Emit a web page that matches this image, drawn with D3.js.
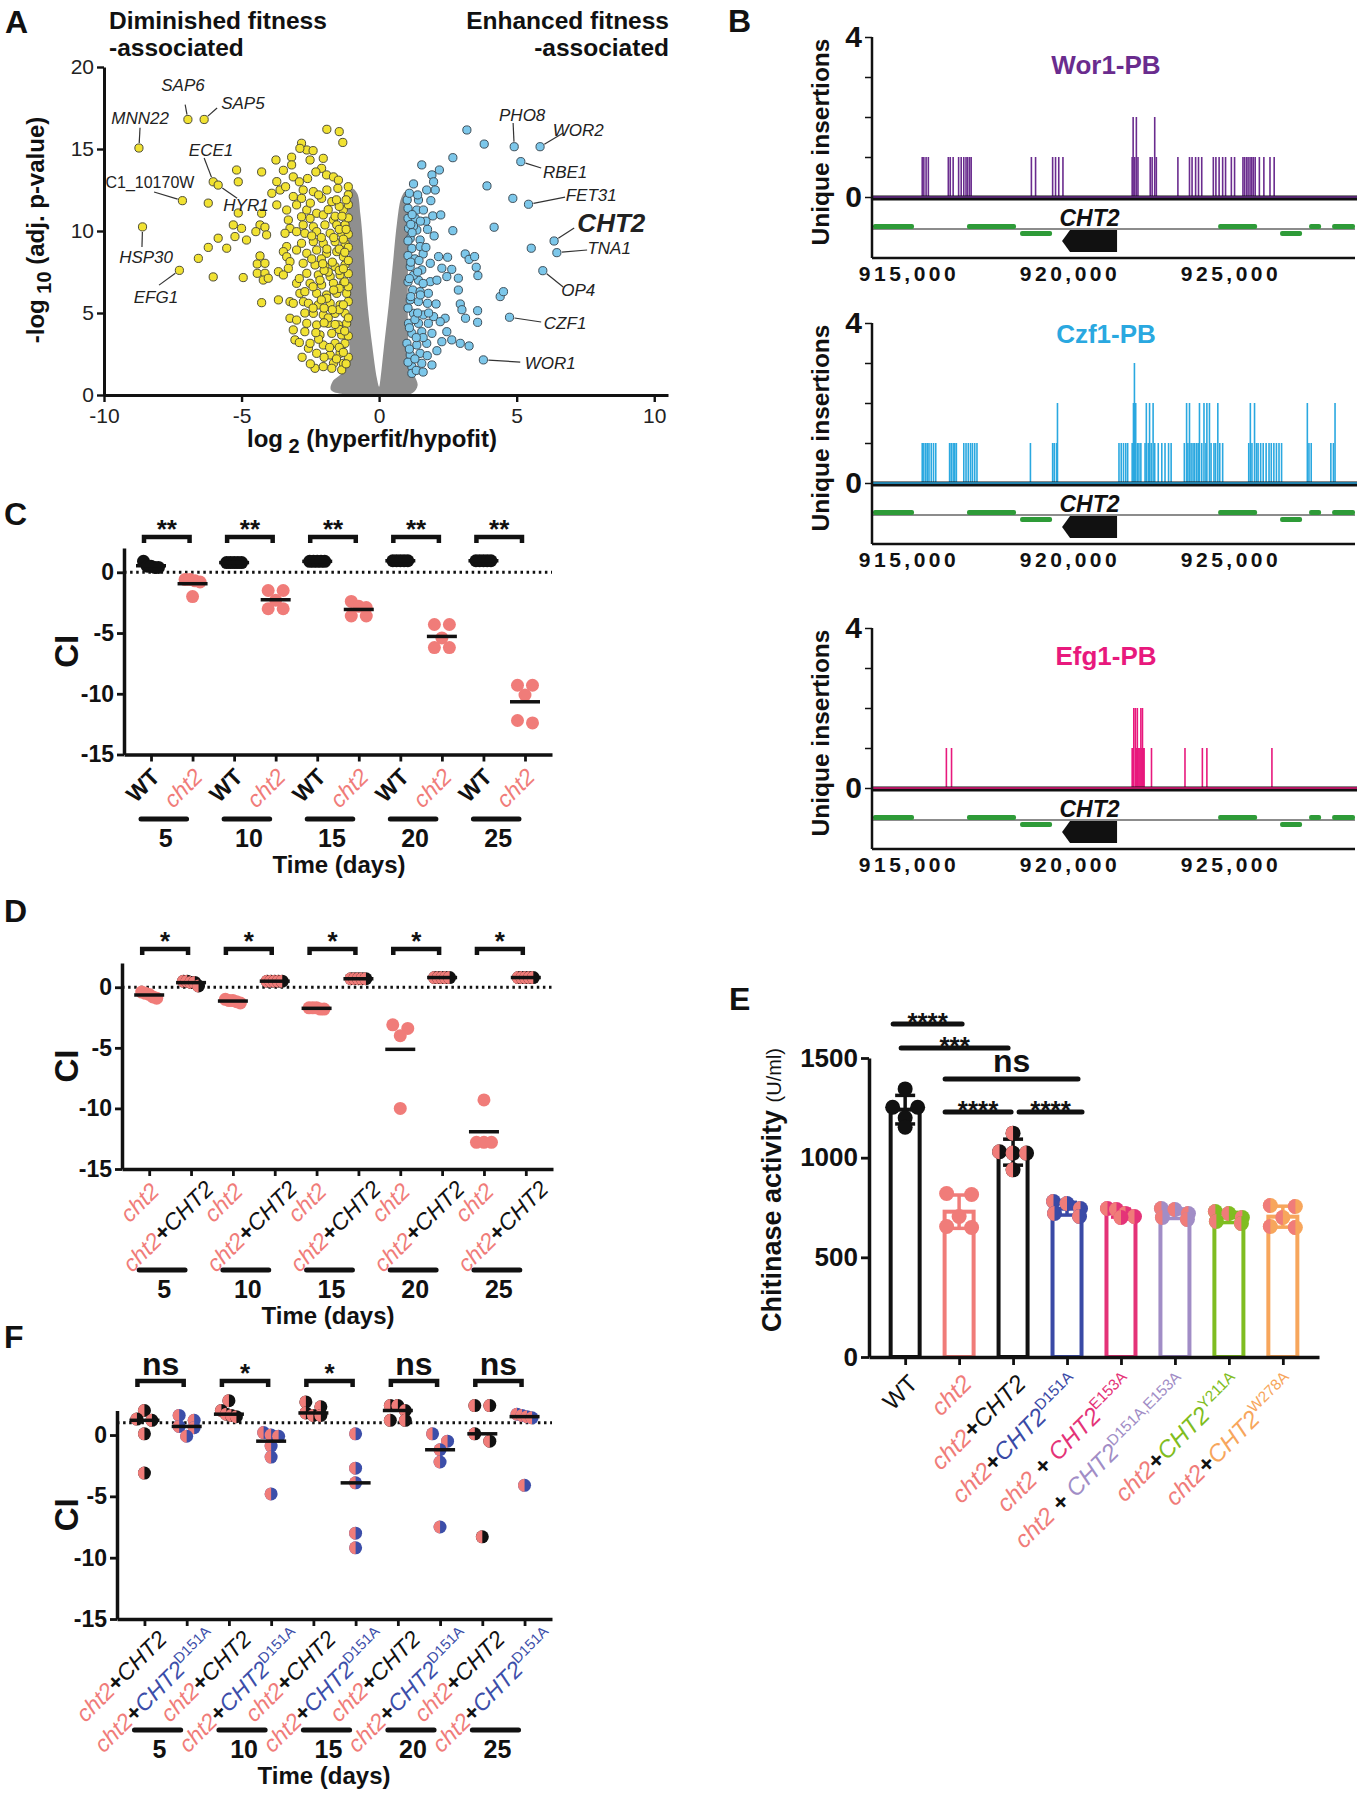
<!DOCTYPE html>
<html>
<head>
<meta charset="utf-8">
<script src="https://cdn.jsdelivr.net/npm/d3@7"></script>
<style>
  body { margin: 0; background: #fff; }
  svg { display: block; }
</style>
</head>
<body>
<svg id="fig" width="1357" height="1800"></svg>
<script>
const NARROW = "'Liberation Sans Narrow', 'Liberation Sans', Arial, sans-serif";
const SANS = "'Liberation Sans', Arial, sans-serif";
const PINK = "#f07c79";
const BLUE = "#3c4ea9";
const INK = "#111";

// ---------------- A: volcano plot ----------------
const volcanoTicksX = [-10, -5, 0, 5, 10];
const volcanoTicksY = [0, 5, 10, 15, 20];

// outline of the dense grey (non-significant) cloud
const grayCloud = [[-1.3,0.05],[-1.75,0.3],[-1.7,0.8],[-1.3,1.4],[-1.12,2.0],[-1.08,4],[-1.1,8],[-1.15,11],[-1.0,12.6],
  [-0.8,12.3],[-0.68,11],[-0.55,8.5],[-0.42,5.5],[-0.25,3],[-0.08,1.0],[0,0.5],[0.05,1.0],[0.18,3],[0.35,5.5],
  [0.5,8],[0.65,10.5],[0.8,12.0],[0.95,12.4],[1.1,11.5],[1.05,8],[1.05,4],[1.1,2.0],[1.25,1.3],[1.4,0.6],[1.2,0.1],[0.4,0.0]];

const yellowPts = [[-8.73,15.06],[-6.95,16.8],[-6.36,16.8],[-8.6,10.25],[-6.03,13.0],[-5.85,12.8],[-7.15,11.85],[-7.26,7.6],[-6.21,11.7],
  [-1.9,16.2],[-1.45,16.06],[-1.32,15.4],[-5.18,13.72],[-5.12,13.0],[-4.27,13.6],[-5.12,11.1],
  [-5.3,10.37],[-5.0,10.16],[-5.24,9.66],[-4.82,9.45],[-5.85,9.56],[-6.21,9.0],[-5.54,8.95],[-6.57,8.33],[-6.03,7.2],[-4.94,7.16],[-4.27,5.63],
  [-4.27,11.08],[-4.33,10.37],[-4.15,10.23],[-4.48,9.96],[-4.09,9.76],
  [-4.33,8.48],[-4.43,7.99],[-4.15,8.03],[-4.43,7.42],[-4.15,7.42],[-4.21,7.01],[-4.03,7.12],[-3.66,7.52],[-3.66,5.8],
  [-3.75,14.33],[-3.72,13.01],[-3.6,12.5],[-3.72,11.59],[-3.48,13.7],[-3.18,14.5],[-3.18,14.03],[-3.12,13.3],[-3.36,11.28],[-3.3,10.67],
  [-3.24,10.16],[-3.42,9.86],[-3.36,9.05],[-3.48,8.74],[-3.36,8.43],[-3.24,8.13],[-3.3,7.72],[-3.48,7.32],[-3.0,6.81],[-2.88,6.2],[-3.24,5.69],
  [-3.12,5.59],[-2.75,5.69],[-3.24,4.68],[-3.0,4.57],[-3.12,3.97],[-2.7,3.86],[-3.06,3.36],[-2.57,2.85],[-2.33,1.63],[-2.03,1.73],
  [-2.82,15.35],[-2.63,14.94],[-2.88,15.04],[-2.51,14.33],[-2.03,14.43],[-2.09,13.82],[-1.91,13.42],[-1.66,13.3],[-1.48,13.1],[-1.12,12.7],
  [-2.76,12.5],[-2.39,12.4],[-3.12,12.1],[-2.82,11.99],[-2.09,11.99],[-1.72,11.79],[-3.0,11.59],[-2.63,11.28],[-2.27,11.08],[-2.03,10.98],
  [-2.82,10.87],[-2.51,10.77],[-1.66,10.67],[-1.3,11.28],[-1.12,12.2],[-2.76,10.37],[-2.39,10.26],[-1.97,10.37],[-1.54,10.37],[-1.24,10.37],
  [-3.0,9.96],[-2.7,9.86],[-2.27,9.96],[-1.78,9.86],[-1.36,9.86],[-2.82,9.25],[-2.39,9.35],[-2.03,9.25],[-1.6,9.35],[-1.24,9.25],
  [-3.0,8.84],[-2.63,8.64],[-2.27,8.84],[-1.91,8.64],[-1.54,8.74],[-1.3,8.43],[-2.76,8.03],[-2.33,7.93],[-1.97,7.83],[-1.6,7.83],[-1.24,7.93],
  [-2.63,7.42],[-2.21,7.32],[-1.78,7.22],[-1.42,7.32],[-2.51,6.81],[-2.09,6.71],[-1.66,6.81],[-1.3,6.81],[-2.7,6.3],[-2.27,6.2],[-1.91,6.1],
  [-1.54,6.2],[-1.18,6.2],[-2.57,5.59],[-2.21,5.49],[-1.78,5.59],[-1.42,5.49],[-2.39,4.98],[-2.03,4.88],[-1.6,4.98],[-1.24,4.98],
  [-2.63,4.37],[-2.27,4.27],[-1.85,4.37],[-1.48,4.27],[-1.18,4.37],[-2.15,3.66],[-1.72,3.76],[-1.36,3.66],[-2.51,3.15],[-2.03,3.05],
  [-1.6,3.15],[-1.24,3.15],[-2.27,2.54],[-1.78,2.44],[-1.42,2.54],[-1.66,1.93],[-1.3,1.93],[-1.72,1.63],[-1.36,1.53],
  [-1.12,2.3],[-1.12,3.6],[-1.12,4.7],[-1.12,5.7],[-1.12,6.6],[-1.12,7.4],[-1.12,8.2],[-1.12,9.0],[-1.12,9.8],[-1.12,10.8],[-1.12,11.6],
  [-1.45,2.9],[-1.45,4.0],[-1.45,5.2],[-1.45,6.5],[-1.45,7.6],[-1.45,8.9],[-1.45,10.1],[-1.45,11.5],[-1.8,2.9],[-1.85,4.7],[-1.9,5.9],
  [-1.85,7.5],[-1.9,8.9],[-1.85,11.3],[-2.2,3.4],[-2.1,5.8],[-2.15,7.0],[-2.1,8.3],
  [-1.2,1.9],[-1.3,2.6],[-1.55,2.2],[-1.25,3.9],[-1.6,4.3],[-1.3,5.5],[-1.7,5.2],[-1.25,6.9],[-1.65,6.4],[-1.3,7.7],[-1.7,8.1],
  [-1.25,8.7],[-1.65,9.6],[-1.3,9.5],[-1.2,10.1],[-1.6,10.9],[-1.35,10.9],[-1.2,11.9],[-1.55,11.9],[-2.0,2.3],[-2.3,3.8],[-2.0,4.4],
  [-2.4,5.3],[-2.0,5.3],[-2.4,6.6],[-2.0,7.6],[-2.45,8.3],[-2.05,8.0],[-2.45,9.7],[-2.1,9.6],[-2.5,11.7],[-2.2,12.2],[-1.9,12.5],
  [-1.5,12.6],[-2.9,13.0],[-2.6,13.2],[-2.3,13.6],[-2.4,14.9],[-3.4,12.7],[-3.9,12.3],[-2.9,7.1],[-2.7,5.0],[-2.9,3.2],[-2.8,2.3],[-2.5,1.9]];

const bluePts = [[4.91,15.14],[5.85,15.14],[5.15,14.23],[5.43,11.63],[4.86,11.99],[6.36,9.39],[6.46,8.68],[5.53,8.95],[5.95,7.58],[4.74,4.74],[3.79,2.14],
  [4.4,6.0],[4.52,6.3],[4.18,10.23],[3.92,12.75],[3.82,15.3],[3.19,16.16],[2.68,14.47],
  [1.55,14.03],[2.19,13.72],[1.92,13.42],[1.98,13.0],[1.73,12.5],[2.04,12.5],[1.25,12.87],[1.02,11.89],[1.43,11.89],[1.88,11.85],[1.05,11.38],
  [1.37,11.28],[1.61,11.28],[1.95,10.92],[2.24,10.98],[1.05,10.77],[1.31,10.77],[2.68,10.02],[1.76,10.1],[2.0,9.7],[1.07,10.16],[1.37,10.06],
  [1.13,9.55],[1.49,9.45],[1.19,8.94],[1.49,9.05],[2.16,8.44],[2.49,8.4],[1.86,8.03],[3.13,8.6],[3.27,8.27],[3.47,8.44],[3.53,7.79],[3.59,7.28],
  [2.28,7.73],[2.64,7.66],[2.46,7.22],[2.88,7.12],[1.55,7.63],[1.13,7.83],[1.43,7.0],[1.86,6.91],[2.1,7.0],[1.22,6.4],[1.49,6.3],[1.79,6.2],
  [2.88,6.4],[1.13,5.8],[1.43,5.7],[1.76,5.59],[2.07,5.55],[2.95,5.55],[3.01,5.2],[3.58,5.14],[3.14,4.68],[3.58,4.43],[1.25,4.98],[1.61,4.88],
  [1.98,4.78],[2.4,4.68],[1.07,4.37],[1.43,4.37],[1.79,4.37],[2.22,4.47],[1.19,3.76],[1.55,3.86],[1.92,3.76],[2.46,3.86],[2.64,3.36],[2.95,3.15],
  [3.27,2.99],[2.28,3.25],[1.01,3.15],[1.37,3.05],[1.73,3.15],[1.13,2.44],[1.49,2.54],[1.92,1.83],[1.19,1.73],[1.55,1.93],[1.19,1.32],
  [1.05,2.0],[1.05,5.3],[1.05,6.9],[1.05,8.5],[1.05,9.4],[1.25,10.3],[1.2,11.0],[1.3,2.2],[1.3,4.6],[1.3,8.3],[1.6,3.5],[1.6,8.6],[1.7,10.6],
  [1.25,7.3],[1.6,6.8],[1.1,12.3],
  [1.1,2.8],[1.35,3.5],[1.1,4.1],[1.4,5.0],[1.15,6.0],[1.5,6.1],[1.1,7.1],[1.4,7.5],[1.15,8.1],[1.45,8.2],[1.2,9.9],[1.5,10.6],[1.15,10.4],
  [1.4,12.2],[1.7,9.0],[1.8,5.0],[1.75,2.4],[2.1,2.7],[1.35,1.5],[1.6,1.4]];

// name, point, label centre, leader-line end
const geneLabels = [
  {t:"MNN22", x:-8.73, y:15.06, lx:-8.69, ly:16.9, ex:-8.69, ey:16.3},
  {t:"SAP6", x:-6.95, y:16.8, lx:-7.13, ly:18.9, ex:-7.05, ey:17.7},
  {t:"SAP5", x:-6.36, y:16.8, lx:-4.95, ly:17.8, ex:-5.89, ey:17.5},
  {t:"ECE1", x:-6.03, y:13.0, lx:-6.11, ly:14.94, ex:-6.36, ey:14.45},
  {t:"HYR1", x:-5.85, y:12.8, lx:-4.84, ly:11.59, ex:-5.16, ey:12.0},
  {t:"C1_10170W", x:-7.15, y:11.85, lx:-8.33, ly:12.99, ex:-8.18, ey:12.38, plain:true},
  {t:"HSP30", x:-8.6, y:10.25, lx:-8.47, ly:8.41, ex:-8.62, ey:9.02},
  {t:"EFG1", x:-7.26, y:7.6, lx:-8.11, ly:5.98, ex:-8.0, ey:6.7},
  {t:"PHO8", x:4.91, y:15.14, lx:5.2, ly:17.07, ex:4.87, ey:16.59},
  {t:"WOR2", x:5.85, y:15.14, lx:7.24, ly:16.16, ex:6.69, ey:15.98},
  {t:"RBE1", x:5.15, y:14.23, lx:6.76, ly:13.6, ex:5.89, ey:13.84},
  {t:"FET31", x:5.43, y:11.63, lx:7.71, ly:12.2, ex:6.76, ey:12.07},
  {t:"CHT2", x:6.36, y:9.39, lx:8.44, ly:10.49, ex:7.09, ey:10.18, big:true},
  {t:"TNA1", x:6.46, y:8.68, lx:8.36, ly:8.96, ex:7.56, ey:8.84},
  {t:"OP4", x:5.95, y:7.58, lx:7.24, ly:6.4, ex:6.69, ey:6.59},
  {t:"CZF1", x:4.74, y:4.74, lx:6.76, ly:4.39, ex:5.89, ey:4.45},
  {t:"WOR1", x:3.79, y:2.14, lx:6.22, ly:1.95, ex:5.13, ey:2.01}
];

// ---------------- B: insertion tracks ----------------
const genomeTicks = [915000, 920000, 925000];
const trackNames = ["Wor1-PB", "Czf1-PB", "Efg1-PB"];
const trackColors = ["#6a2c8e", "#2aa8e0", "#e8197d"];
const wor1Insertions = [[915410,1],[915460,1],[915530,1],[915600,1],[916220,1],[916280,1],[916370,1],[916540,1],[916620,1],[916700,1],
  [916770,1],[916820,1],[916880,1],[916930,1],[918800,1],[918930,1],[919460,1],[919550,1],[919650,1],[919780,1],[921930,1],[921960,2],
  [922010,1],[922060,2],[922110,1],[922490,1],[922550,1],[922630,2],[922680,1],[923350,1],[923710,1],[923790,1],[923900,1],[923990,1],
  [924090,1],[924450,1],[924530,1],[924630,1],[924740,1],[924830,1],[925010,1],[925110,1],[925370,1],[925420,1],[925480,1],[925530,1],
  [925590,1],[925640,1],[925690,1],[925750,1],[925880,1],[926020,1],[926210,1],[926340,1]];
const czf1Insertions = [[915410,1],[915460,1],[915520,1],[915570,1],[915620,1],[915690,1],[915760,1],[915830,1],[916260,1],[916310,1],
  [916370,1],[916420,1],[916470,1],[916700,1],[916770,1],[916840,1],[916910,1],[916970,1],[917040,1],[917110,1],[918770,1],[919460,1],
  [919510,1],[919580,1],[919610,2],[921520,1],[921590,1],[921660,1],[921730,1],[921790,1],[921930,1],[921970,2],[922000,3],[922040,2],
  [922090,1],[922140,1],[922200,1],[922330,1],[922370,2],[922430,1],[922470,2],[922520,1],[922580,2],[922630,1],[922740,1],[922850,1],
  [922950,1],[923060,1],[923140,1],[923550,1],[923620,2],[923660,1],[923710,2],[923760,1],[923820,1],[923870,1],[923930,1],[923980,1],
  [924020,2],[924090,1],[924160,2],[924220,1],[924250,2],[924330,2],[924380,1],[924470,1],[924520,1],[924590,2],[924650,1],[924740,1],
  [925550,1],[925600,2],[925650,1],[925730,2],[925790,1],[925840,1],[925920,1],[926000,1],[926090,1],[926180,1],[926250,1],[926330,1],
  [926410,1],[926490,1],[926570,1],[927370,2],[927420,1],[927490,1],[928100,1],[928180,1],[928230,2]];
const efg1Insertions = [[916160,1],[916320,1],[921930,1],[921950,1],[921980,2],[922030,2],[922060,1],[922090,2],[922110,1],[922140,1],
  [922170,1],[922200,2],[922230,1],[922250,2],[922280,1],[922300,1],[922530,1],[923570,1],[924110,1],[924250,1],[926270,1]];
const genesAbove = [[913880,915155],[916800,918323],[924600,925810],[927424,927797],[928139,928850]];
const genesBelow = [[918448,919442],[926523,927206]];
const cht2Gene = [919752, 921460];

// ---------------- C, D, F: competitive index ----------------
const days = [5, 10, 15, 20, 25];
const ciTicks = [0, -5, -10, -15];
const ciWT_C = [[0.5,0.9,0.4,0.4,0.5],[0.8,0.8,0.8,0.8,0.8],[0.9,0.9,0.9,0.9,0.9],[0.95,0.95,0.95,0.95,0.95],[0.95,0.95,0.95,0.95,0.95]];
const ciCht2_C = [[-0.6,-0.7,-0.6,-0.8,-2.0],[-1.5,-1.5,-2.3,-3.0,-3.0],[-2.4,-2.8,-2.9,-3.6,-3.6],[-4.3,-4.3,-5.4,-6.2,-6.2],[-9.3,-9.3,-10.1,-12.2,-12.4]];
const ciCht2_D = [[-0.9,-0.8,-0.4,-0.6,-0.5],[-1.3,-1.2,-1.0,-1.1,-1.1],[-1.8,-1.7,-1.7,-1.7,-1.8],[-3.1,-3.4,-4.0,-10.0],[-9.3,-12.8,-12.8,-12.8]];
const ciComp_D = [[0.1,0.4,0.5,0.4,0.5],[0.5,0.5,0.5,0.5,0.5],[0.7,0.7,0.7,0.7,0.7],[0.8,0.8,0.8,0.8,0.8],[0.8,0.8,0.8,0.8,0.8]];
const ciComp_F = [[2.0,1.2,1.3,0.1,-3.1],[2.8,1.5,1.6,1.7,2.0],[2.7,2.3,1.6,1.6,1.8],[2.4,2.4,1.2,1.2,2.0],[2.4,2.4,0.1,-0.5,-8.3]];
const ciD151A_F = [[1.6,1.2,0.7,0.6,-0.1],[0.2,0.0,-0.1,-0.9,-1.8,-4.8],[0.1,-2.7,-3.9,-8.0,-9.2],[0.1,-0.5,-1.2,-2.2,-7.5],[1.7,1.5,1.6,1.4,-4.1]];
const sigC = ["**","**","**","**","**"];
const sigD = ["*","*","*","*","*"];
const sigF = ["ns","*","*","ns","ns"];

// ---------------- E: chitinase activity ----------------
const strainColors = [INK, PINK, INK, "#3a4aa6", "#e43378", "#a18dc6", "#7fbd21", "#f7a65c"];
const chitinase = [[1345,1253,1253,1200,1153],[820,815,705,655,650],[1123,1030,1023,1023,939],[780,770,745,720,705],
  [745,740,720,700,705],[745,740,720,690,700],[730,720,700,680,670],[760,755,700,655,650]];
const strainSuffix = [null, null, null, "D151A", "E153A", "D151A,E153A", "Y211A", "W278A"];
const eTicks = [0, 500, 1000, 1500];
// from, to, label, line y, x offsets
const eSig = [[0,1,"****",1024,-12,3],[0,2,"***",1048,-4,-5],[1,3,"ns",1079,-14,11],[1,2,"****",1112,-14,-2],[2,3,"****",1112,6,15]];

const svg = d3.select("#fig");
const plain = d => String(d);   // hyphen-minus like the original

function txt(g, x, y, s, size, opts = {}) {
  const t = g.append("text").attr("x", x).attr("y", y).text(s)
    .attr("font-family", opts.family || NARROW).attr("font-size", size)
    .attr("font-weight", opts.weight || "bold").attr("fill", opts.color || INK)
    .attr("text-anchor", opts.anchor || "middle");
  if (opts.italic) t.attr("font-style", "italic");
  if (opts.rotate) t.attr("transform", `rotate(${opts.rotate},${x},${y})`);
  if (opts.ls) t.attr("letter-spacing", opts.ls);
  return t;
}

function richText(t, parts, size) {
  parts.forEach(p => {
    const ts = t.append("tspan").text(p.t).attr("fill", p.c);
    if (p.i) ts.attr("font-style", "italic");
    if (p.b) ts.attr("font-weight", "bold");
    if (p.s) ts.attr("font-size", size * 0.64).attr("dy", -size * 0.42);
  });
}

function styleAxis(g, w) {
  g.select(".domain").attr("stroke", INK).attr("stroke-width", w);
  g.selectAll(".tick line").attr("stroke", INK).attr("stroke-width", w * 0.8);
}

// rows of near-equal values are spread sideways, GraphPad style
function swarm(values, yScale, spacing, maxSpread, tol) {
  const pts = values.map(v => ({v, y: yScale(v)})).sort((a, b) => a.y - b.y);
  const rows = [];
  pts.forEach(p => {
    const row = rows[rows.length - 1];
    if (row && p.y - row[0].y < tol) row.push(p); else rows.push([p]);
  });
  rows.forEach(row => {
    const n = row.length;
    const s = n > 1 ? Math.min(spacing, maxSpread / (n - 1)) : 0;
    row.forEach((p, k) => p.dx = (k - (n - 1) / 2) * s);
  });
  return pts;
}

function dot(g, cx, cy, r, left, right) {
  g.append("circle").attr("cx", cx).attr("cy", cy).attr("r", r).attr("fill", right);
  if (left !== right)
    g.append("path").attr("d", `M${cx},${cy - r}A${r},${r} 0 0,0 ${cx},${cy + r}Z`).attr("fill", left);
}

// ================= Panel A =================
{
  const g = svg.append("g");
  const x = d3.scaleLinear().domain([-10, 10.5]).range([104, 668]);
  const y = d3.scaleLinear().domain([0, 20]).range([395, 67]);

  txt(g, 5, 33, "A", 32, {family: SANS, anchor: "start"});
  txt(g, 109, 29, "Diminished fitness", 24.5, {family: SANS, anchor: "start"});
  txt(g, 109, 56, "-associated", 24.5, {family: SANS, anchor: "start"});
  txt(g, 669, 29, "Enhanced fitness", 24.5, {family: SANS, anchor: "end"});
  txt(g, 669, 56, "-associated", 24.5, {family: SANS, anchor: "end"});

  g.append("path").datum(grayCloud)
    .attr("d", d3.line().x(d => x(d[0])).y(d => y(d[1])).curve(d3.curveCatmullRomClosed.alpha(0.5)))
    .attr("fill", "#8f8f8f");

  geneLabels.forEach(d => {
    const px = x(d.x), py = y(d.y), qx = x(d.ex), qy = y(d.ey);
    const len = Math.hypot(qx - px, qy - py);
    g.append("line").attr("x1", px + (qx - px) / len * 5).attr("y1", py + (qy - py) / len * 5)
      .attr("x2", qx).attr("y2", qy).attr("stroke", "#333").attr("stroke-width", 1.2);
  });

  g.selectAll("circle.yel").data(yellowPts).join("circle").attr("class", "yel")
    .attr("cx", d => x(d[0])).attr("cy", d => y(d[1])).attr("r", 4.1)
    .attr("fill", "#f1e232").attr("stroke", "#4f4d36").attr("stroke-width", 1);
  g.selectAll("circle.blu").data(bluePts).join("circle").attr("class", "blu")
    .attr("cx", d => x(d[0])).attr("cy", d => y(d[1])).attr("r", 4.1)
    .attr("fill", "#7cc7ea").attr("stroke", "#3e4f5a").attr("stroke-width", 1);

  geneLabels.forEach(d => {
    txt(g, x(d.lx), y(d.ly), d.t, d.big ? 26 : (d.plain ? 16 : 17), {
      family: SANS, weight: d.big ? "bold" : "normal", italic: !d.plain, color: "#222"
    }).attr("dy", "0.35em");
  });

  const xa = g.append("g").attr("transform", "translate(0,395)")
    .call(d3.axisBottom(x).tickValues(volcanoTicksX).tickSize(7).tickSizeOuter(0).tickFormat(plain));
  styleAxis(xa, 3);
  xa.selectAll("text").attr("font-family", SANS).attr("font-size", 21).attr("fill", "#222").attr("dy", "0.85em");
  const ya = g.append("g").attr("transform", "translate(104,0)")
    .call(d3.axisLeft(y).tickValues(volcanoTicksY).tickSize(7).tickSizeOuter(0).tickFormat(plain));
  styleAxis(ya, 3);
  ya.selectAll("text").attr("font-family", SANS).attr("font-size", 21).attr("fill", "#222");

  const xt = txt(g, 372, 447, "", 24, {family: SANS});
  xt.append("tspan").text("log");
  xt.append("tspan").text(" 2").attr("dy", 6).attr("font-size", 20);
  xt.append("tspan").text(" (hyperfit/hypofit)").attr("dy", -6);
  const yt = txt(g, 44, 230, "", 24, {family: SANS, rotate: -90});
  yt.append("tspan").text("-log");
  yt.append("tspan").text(" 10").attr("dy", 7).attr("font-size", 20);
  yt.append("tspan").text(" (adj. p-value)").attr("dy", -7);
}

// ================= Panel B =================
{
  const x = d3.scaleLinear().domain([913850, 928850]).range([872, 1355]);
  const tracks = [
    {data: wor1Insertions, y0: 197, titleDy: -123},
    {data: czf1Insertions, y0: 483, titleDy: -140},
    {data: efg1Insertions, y0: 788, titleDy: -123}
  ];
  txt(svg, 728, 32, "B", 32, {family: SANS, anchor: "start"});
  tracks.forEach((t, i) => {
    const g = svg.append("g");
    const color = trackColors[i];
    const y = d3.scaleLinear().domain([0, 4]).range([t.y0, t.y0 - 160]);

    g.selectAll("line.ins").data(t.data).join("line")
      .attr("x1", d => x(d[0])).attr("x2", d => x(d[0]))
      .attr("y1", y(0)).attr("y2", d => y(d[1]))
      .attr("stroke", color).attr("stroke-width", 1.6);
    g.append("line").attr("x1", 872).attr("x2", 1357).attr("y1", t.y0 + 1).attr("y2", t.y0 + 1)
      .attr("stroke", INK).attr("stroke-width", 5);
    g.append("line").attr("x1", 872).attr("x2", 1357).attr("y1", t.y0).attr("y2", t.y0)
      .attr("stroke", color).attr("stroke-width", 1.5);

    // gene annotation strip
    g.append("line").attr("x1", 872).attr("x2", 1355).attr("y1", t.y0 + 32).attr("y2", t.y0 + 32)
      .attr("stroke", "#666").attr("stroke-width", 1.6);
    g.selectAll("rect.up").data(genesAbove).join("rect")
      .attr("x", d => x(d[0])).attr("width", d => x(d[1]) - x(d[0]))
      .attr("y", t.y0 + 27).attr("height", 5).attr("rx", 2).attr("fill", "#2e9b38");
    g.selectAll("rect.dn").data(genesBelow).join("rect")
      .attr("x", d => x(d[0])).attr("width", d => x(d[1]) - x(d[0]))
      .attr("y", t.y0 + 34).attr("height", 5).attr("rx", 2).attr("fill", "#2e9b38");
    const a0 = x(cht2Gene[0]), a1 = x(cht2Gene[1]);
    g.append("path")
      .attr("d", `M${a0},${t.y0 + 44}L${a0 + 8},${t.y0 + 33}H${a1}V${t.y0 + 55}H${a0 + 8}Z`)
      .attr("fill", INK);
    txt(g, (a0 + a1) / 2, t.y0 + 29, "CHT2", 23, {family: SANS, italic: true});

    // axes
    g.append("line").attr("x1", 872).attr("x2", 872).attr("y1", t.y0 - 160).attr("y2", t.y0 + 61)
      .attr("stroke", INK).attr("stroke-width", 2.5);
    g.append("line").attr("x1", 872).attr("x2", 1355).attr("y1", t.y0 + 61).attr("y2", t.y0 + 61)
      .attr("stroke", INK).attr("stroke-width", 2.5);
    const ya = g.append("g").attr("transform", "translate(872,0)")
      .call(d3.axisLeft(y).tickValues([0, 1, 2, 3, 4]).tickSize(7)
        .tickFormat(d => (d === 0 || d === 4) ? d : ""));
    ya.select(".domain").remove();
    ya.selectAll(".tick line").attr("stroke", INK).attr("stroke-width", 1.5);
    ya.selectAll("text").attr("font-family", NARROW).attr("font-weight", "bold").attr("font-size", 30).attr("fill", INK);
    genomeTicks.forEach(v => txt(g, x(v), t.y0 + 84, d3.format(",")(v), 21, {family: SANS, ls: 3.5}));

    txt(g, 1106, t.y0 + t.titleDy, trackNames[i], 26, {family: SANS, color});
    txt(g, 829, t.y0 - 55, "Unique insertions", 24.5, {family: SANS, rotate: -90});
  });
}

// ================= Panels C, D, F =================
const labelParts = {
  wt: [{t: "WT", c: INK}],
  cht2: [{t: "cht2", c: PINK, i: true}],
  comp: [{t: "cht2", c: PINK, i: true}, {t: "+", c: INK, b: true}, {t: "CHT2", c: INK, i: true}],
  d151a: [{t: "cht2", c: PINK, i: true}, {t: "+", c: INK, b: true}, {t: "CHT2", c: BLUE, i: true}, {t: "D151A", c: BLUE, s: true}]
};
const dotColors = {wt: [INK, INK], cht2: [PINK, PINK], comp: [PINK, INK], d151a: [PINK, BLUE]};

// rotated category label: longer labels sit further right, as in the original
function rotatedLabel(g, parts, cx, axisY, size, weight) {
  const t = g.append("text").attr("text-anchor", "end").attr("font-family", SANS).attr("font-size", size);
  if (weight) t.attr("font-weight", weight);
  richText(t, parts, size);
  const L = t.node().getComputedTextLength();
  t.attr("transform", `translate(${cx + 4 + 0.17 * L},${axisY + 25 - 0.03 * L}) rotate(-45)`);
  return t;
}

function ciPanel(o) {
  const g = svg.append("g");
  const y = d3.scaleLinear().domain([-15, 2]).range([o.bottom, o.top]);
  const x = d3.scalePoint().domain(d3.range(10)).range([o.left, o.right]).padding(0.65);

  txt(g, 4, o.letterY, o.letter, 32, {family: SANS, anchor: "start"});

  g.append("line").attr("x1", o.left).attr("x2", o.right).attr("y1", y(o.ref)).attr("y2", y(o.ref))
    .attr("stroke", INK).attr("stroke-width", 3).attr("stroke-dasharray", "2.5,3.6");

  o.groups.forEach((grp, i) => {
    const cx = x(i);
    const [l, r] = dotColors[grp.kind];
    swarm(grp.values, y, 15, 15, 8).forEach(p => dot(g, cx + p.dx, p.y, 6.5, l, r));
    const c = o.center === "median" ? d3.median(grp.values) : d3.mean(grp.values);
    g.append("line").attr("x1", cx - 15).attr("x2", cx + 15).attr("y1", y(c)).attr("y2", y(c))
      .attr("stroke", INK).attr("stroke-width", 3.5);
    rotatedLabel(g, labelParts[grp.kind], cx, o.bottom, o.labelSize, grp.kind === "wt" ? "bold" : null);
  });

  const ya = g.append("g").attr("transform", `translate(${o.left},0)`)
    .call(d3.axisLeft(y).tickValues(ciTicks).tickSize(7).tickSizeOuter(0).tickFormat(plain));
  styleAxis(ya, 3.5);
  ya.selectAll("text").attr("font-family", NARROW).attr("font-weight", "bold").attr("font-size", 23).attr("fill", INK);
  const xa = g.append("g").attr("transform", `translate(0,${o.bottom})`)
    .call(d3.axisBottom(x).tickSize(7).tickSizeOuter(0).tickFormat(""));
  styleAxis(xa, 3.5);

  days.forEach((d, k) => {
    const x0 = x(2 * k), x1 = x(2 * k + 1);
    g.append("path").attr("d", `M${x0 - 7},${o.bracketY + 6}V${o.bracketY}H${x1 - 3}V${o.bracketY + 6}`)
      .attr("fill", "none").attr("stroke", INK).attr("stroke-width", 4.5);
    const isNs = o.sig[k] === "ns";
    txt(g, (x0 + x1) / 2 - 5, o.bracketY - (isNs ? 6 : -1), o.sig[k], isNs ? 32 : 26, {family: SANS});
    g.append("line").attr("x1", x0 - 10).attr("x2", x1 - 6).attr("y1", o.lineY).attr("y2", o.lineY)
      .attr("stroke", INK).attr("stroke-width", 5).attr("stroke-linecap", "round");
    txt(g, (x0 + x1) / 2 - 6, o.lineY + 28, d, 25, {});
  });
  txt(g, o.titleX, o.lineY + 54, "Time (days)", 24, {});
  txt(g, 66, (y(2) + y(-15)) / 2, "CI", 33, {rotate: -90}).attr("dy", "0.35em");
}

ciPanel({
  letter: "C", letterY: 525, top: 548, bottom: 754.5, left: 124, right: 552, ref: 0, labelSize: 23,
  groups: d3.range(5).flatMap(k => [{values: ciWT_C[k], kind: "wt"}, {values: ciCht2_C[k], kind: "cht2"}]),
  center: "mean", sig: sigC, bracketY: 537, lineY: 819, titleX: 339
});
ciPanel({
  letter: "D", letterY: 922, top: 963, bottom: 1169, left: 122, right: 553, ref: 0, labelSize: 23,
  groups: d3.range(5).flatMap(k => [{values: ciCht2_D[k], kind: "cht2"}, {values: ciComp_D[k], kind: "comp"}]),
  center: "mean", sig: sigD, bracketY: 949, lineY: 1270, titleX: 328
});
ciPanel({
  letter: "F", letterY: 1348, top: 1410.5, bottom: 1619, left: 117, right: 552, ref: 1, labelSize: 23,
  groups: d3.range(5).flatMap(k => [{values: ciComp_F[k], kind: "comp"}, {values: ciD151A_F[k], kind: "d151a"}]),
  center: "median", sig: sigF, bracketY: 1381, lineY: 1730, titleX: 324
});

// ================= Panel E =================
{
  const g = svg.append("g");
  const x = d3.scalePoint().domain(d3.range(8)).range([869, 1319]).padding(0.67);
  const y = d3.scaleLinear().domain([0, 1500]).range([1357, 1058]);

  txt(g, 729, 1010, "E", 32, {family: SANS, anchor: "start"});

  chitinase.forEach((vals, i) => {
    const c = strainColors[i];
    const m = d3.mean(vals), sd = d3.deviation(vals);
    g.append("rect").attr("x", x(i) - 14.5).attr("width", 29).attr("y", y(m)).attr("height", y(0) - y(m))
      .attr("fill", "#fff").attr("stroke", c).attr("stroke-width", 4);
    g.append("line").attr("x1", x(i)).attr("x2", x(i)).attr("y1", y(m + sd)).attr("y2", y(m - sd))
      .attr("stroke", c).attr("stroke-width", 3.5);
    [m + sd, m - sd].forEach(v => g.append("line").attr("x1", x(i) - 10).attr("x2", x(i) + 10)
      .attr("y1", y(v)).attr("y2", y(v)).attr("stroke", c).attr("stroke-width", 3.5));
    const left = i === 0 ? INK : PINK;
    swarm(vals, y, 25, 27, 8).forEach(p => dot(g, x(i) + p.dx, p.y, 7.5, left, c));
  });

  const ya = g.append("g").attr("transform", "translate(869,0)")
    .call(d3.axisLeft(y).tickValues(eTicks).tickSize(8).tickSizeOuter(0).tickFormat(plain));
  styleAxis(ya, 3.5);
  ya.selectAll("text").attr("font-family", NARROW).attr("font-weight", "bold").attr("font-size", 26).attr("fill", INK);
  const xa = g.append("g").attr("transform", "translate(0,1357)")
    .call(d3.axisBottom(x).tickSize(8).tickSizeOuter(0).tickFormat(""));
  styleAxis(xa, 3.5);

  strainColors.forEach((c, i) => {
    let parts;
    if (i === 0) parts = [{t: "WT", c: INK}];
    else if (i === 1) parts = [{t: "cht2", c: PINK, i: true}];
    else {
      const sep = (i === 4 || i === 5) ? " + " : "+";
      parts = [{t: "cht2", c: PINK, i: true}, {t: sep, c: INK, b: true}, {t: "CHT2", c, i: true}];
      if (strainSuffix[i]) parts.push({t: strainSuffix[i], c, s: true});
    }
    const t = g.append("text").attr("text-anchor", "end").attr("font-family", SANS).attr("font-size", 24)
      .attr("transform", `translate(${x(i) + 14},${1357 + 28}) rotate(-45)`);
    richText(t, parts, 24);
  });

  eSig.forEach(([a, b, s, ly, d0, d1]) => {
    g.append("line").attr("x1", x(a) + d0).attr("x2", x(b) + d1).attr("y1", ly).attr("y2", ly)
      .attr("stroke", INK).attr("stroke-width", 5).attr("stroke-linecap", "round");
    const ns = s === "ns";
    txt(g, (x(a) + d0 + x(b) + d1) / 2, ly + (ns ? -7 : 7), s, ns ? 32 : 26, {family: SANS});
  });

  const yt = txt(g, 781, 1190, "", 27, {family: NARROW, rotate: -90});
  yt.append("tspan").text("Chitinase activity ");
  yt.append("tspan").text("(U/ml)").attr("font-size", 20).attr("font-weight", "normal");
}
</script>
</body>
</html>
